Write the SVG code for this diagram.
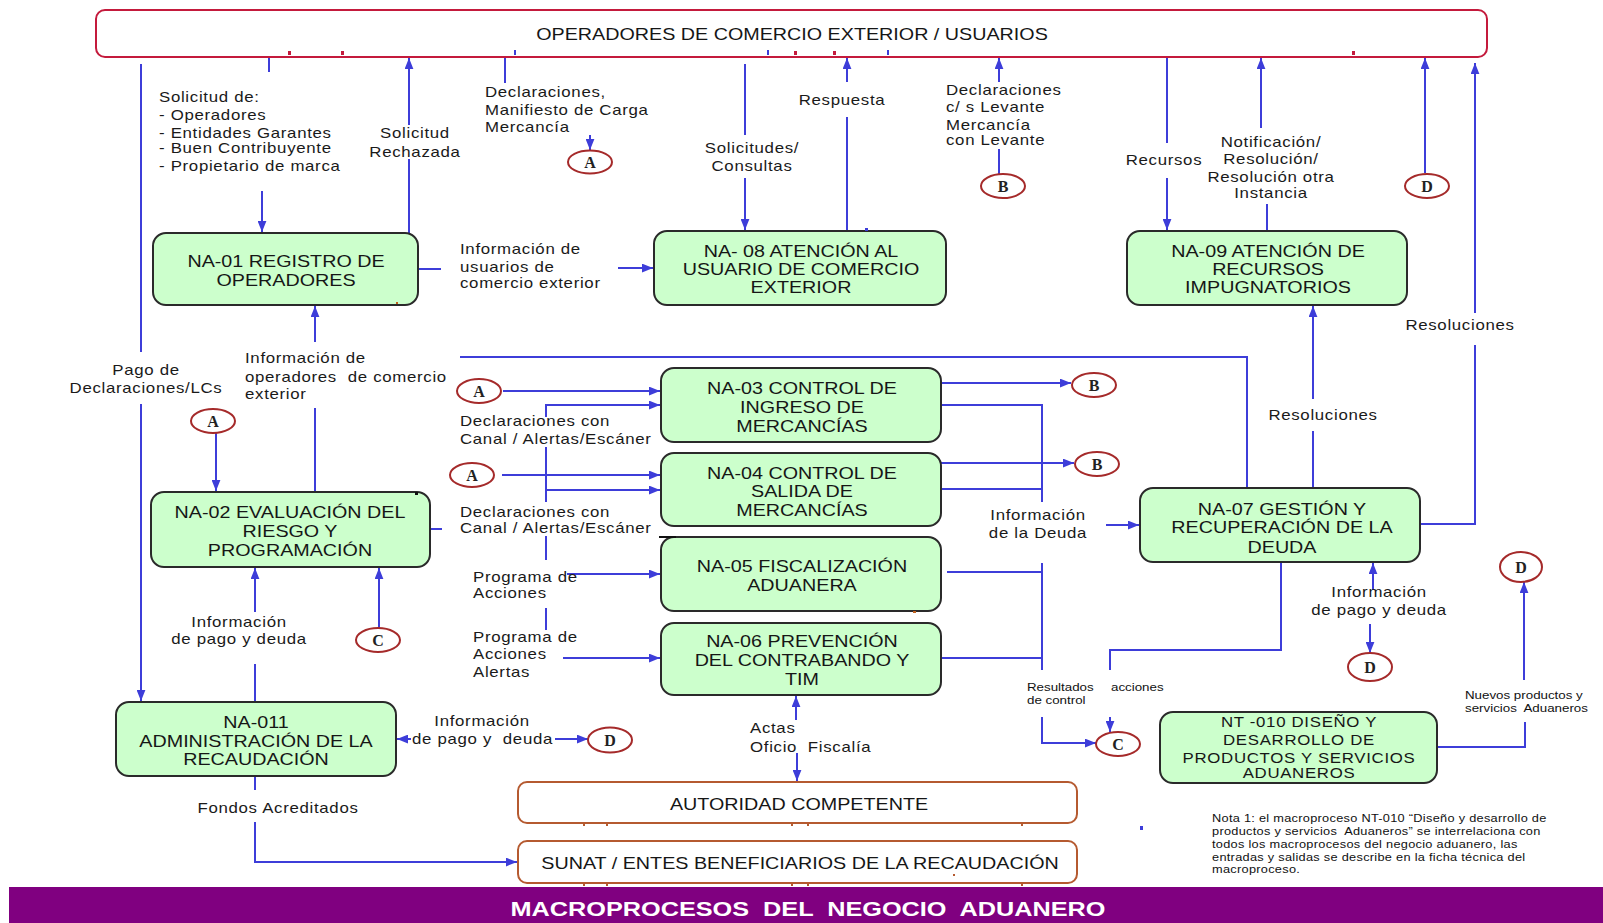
<svg xmlns="http://www.w3.org/2000/svg" width="1603" height="923" viewBox="0 0 1603 923">
<defs>
<marker id="ah" viewBox="0 0 10 8" refX="10" refY="4" markerWidth="11" markerHeight="9" markerUnits="userSpaceOnUse" orient="auto"><path d="M0,0 L10,4 L0,8 z" fill="#3d3dd9"/></marker>
<style>
.box{fill:#ccffcc;stroke:#2a2a2a;stroke-width:2}
.ext{fill:#fff;stroke:#c41a3c;stroke-width:2}
.aut{fill:#fff;stroke:#b55a30;stroke-width:2}
.ref{fill:#fff;stroke:#a52a2a;stroke-width:2}
#connectors path{fill:none;stroke:#3d3dd9;stroke-width:2}
#connectors path.a{marker-end:url(#ah)}
text{font-family:"Liberation Sans",Arial,sans-serif}
.nt{font-size:17px;fill:#161616;text-anchor:middle}
.nts{font-size:14.5px;letter-spacing:0.6px;fill:#161616;text-anchor:middle}
.lb{font-size:14.5px;letter-spacing:0.6px;fill:#1a1a1a}
.mid{text-anchor:middle}
.sm{font-size:11.5px;fill:#111}
.nota{font-size:11px;letter-spacing:0.25px;fill:#111}
.ltr{font-family:"Liberation Serif",serif;font-size:16px;font-weight:bold;fill:#222;text-anchor:middle}
.title{font-size:20px;font-weight:bold;fill:#fff;text-anchor:middle}
</style>
</defs>
<rect width="1603" height="923" fill="#fff"/>

<!-- connectors -->
<g id="connectors">
<path d="M141,64 V352"/>
<path class="a" d="M141,404 V701"/>
<path d="M269,55 V72"/>
<path class="a" d="M262,191 V232"/>
<path d="M409,233 V159"/>
<path class="a" d="M409,125 V58"/>
<path d="M418,269 H441"/>
<path class="a" d="M618,268 H653"/>
<path d="M505,55 V83"/>
<path class="a" d="M590,135 V150"/>
<path d="M745,64 V135"/>
<path class="a" d="M745,178 V230"/>
<path d="M847,231 V117"/>
<path class="a" d="M847,82 V58"/>
<path class="a" d="M999,82 V58"/>
<path d="M999,149 V174"/>
<path d="M1167,52 V143"/>
<path class="a" d="M1167,178 V230"/>
<path class="a" d="M1261,128 V58"/>
<path d="M1267,204 V231"/>
<path class="a" d="M1425,173 V58"/>
<path d="M1421,524 H1475 V345"/>
<path class="a" d="M1475,313 V63"/>
<path d="M1313,488 V431"/>
<path class="a" d="M1313,399 V306"/>
<path d="M315,492 V408"/>
<path class="a" d="M315,342 V306"/>
<path class="a" d="M216,433 V491"/>
<path d="M430,529 H442"/>
<path d="M460,357 H1247 V488"/>
<path class="a" d="M503,391 H660"/>
<path class="a" d="M546,417 V405 H660"/>
<path d="M546,447 V502"/>
<path d="M546,536 V560"/>
<path d="M546,608 V630"/>
<path class="a" d="M546,490 H660"/>
<path class="a" d="M502,475 H660"/>
<path class="a" d="M567,574 H660"/>
<path class="a" d="M563,658 H660"/>
<path class="a" d="M941,383 H1071"/>
<path d="M941,405 H1042 V502"/>
<path class="a" d="M941,463 H1074"/>
<path d="M941,489 H1042"/>
<path class="a" d="M1106,525 H1139"/>
<path d="M947,572 H1042"/>
<path d="M1042,563 V670"/>
<path d="M941,658 H1042"/>
<path class="a" d="M1042,717 V743 H1096"/>
<path d="M1281,562 V650 H1110 V670"/>
<path class="a" d="M1110,717 V732"/>
<path class="a" d="M1373,590 V563"/>
<path class="a" d="M1370,624 V653"/>
<path d="M1437,747 H1525 V722"/>
<path class="a" d="M1524,680 V582"/>
<path class="a" d="M255,612 V568"/>
<path d="M255,664 V702"/>
<path class="a" d="M379,628 V568"/>
<path class="a" d="M411,739 H397"/>
<path class="a" d="M555,739 H588"/>
<path d="M255,776 V790"/>
<path class="a" d="M255,822 V862 H517"/>
<path class="a" d="M796,720 V696"/>
<path class="a" d="M797,753 V781"/>
</g>

<!-- external parties -->
<g id="ext-operadores">
<rect class="ext" x="96" y="10" width="1391" height="47" rx="9"/>
<text class="nt" transform="matrix(1.16 0 0 1 792 0)" x="0" y="40">OPERADORES DE COMERCIO EXTERIOR / USUARIOS</text>
</g>
<g id="ext-autoridad">
<rect class="aut" x="518" y="782" width="559" height="41" rx="9"/>
<text class="nt" transform="matrix(1.16 0 0 1 799 0)" x="0" y="810">AUTORIDAD COMPETENTE</text>
</g>
<g id="ext-sunat">
<rect class="aut" x="518" y="841" width="559" height="42" rx="9"/>
<text class="nt" transform="matrix(1.16 0 0 1 800 0)" x="0" y="869">SUNAT / ENTES BENEFICIARIOS DE LA RECAUDACIÓN</text>
</g>

<!-- macroprocess nodes -->
<g id="na01">
<rect class="box" x="153" y="233" width="265" height="72" rx="13"/>
<text class="nt" transform="matrix(1.16 0 0 1 286 0)"><tspan x="0" y="267">NA-01 REGISTRO DE</tspan><tspan x="0" y="286">OPERADORES</tspan></text>
</g>
<g id="na08">
<rect class="box" x="654" y="231" width="292" height="74" rx="13"/>
<text class="nt" transform="matrix(1.16 0 0 1 801 0)"><tspan x="0" y="257">NA- 08 ATENCIÓN AL</tspan><tspan x="0" y="275">USUARIO DE COMERCIO</tspan><tspan x="0" y="293">EXTERIOR</tspan></text>
</g>
<g id="na09">
<rect class="box" x="1127" y="231" width="280" height="74" rx="13"/>
<text class="nt" transform="matrix(1.16 0 0 1 1268 0)"><tspan x="0" y="257">NA-09 ATENCIÓN DE</tspan><tspan x="0" y="275">RECURSOS</tspan><tspan x="0" y="293">IMPUGNATORIOS</tspan></text>
</g>
<g id="na02">
<rect class="box" x="151" y="492" width="279" height="75" rx="13"/>
<text class="nt" transform="matrix(1.16 0 0 1 290 0)"><tspan x="0" y="518">NA-02 EVALUACIÓN DEL</tspan><tspan x="0" y="537">RIESGO Y</tspan><tspan x="0" y="556">PROGRAMACIÓN</tspan></text>
</g>
<g id="na03">
<rect class="box" x="661" y="368" width="280" height="74" rx="13"/>
<text class="nt" transform="matrix(1.16 0 0 1 802 0)"><tspan x="0" y="394">NA-03 CONTROL DE</tspan><tspan x="0" y="413">INGRESO DE</tspan><tspan x="0" y="432">MERCANCÍAS</tspan></text>
</g>
<g id="na04">
<rect class="box" x="661" y="453" width="280" height="73" rx="13"/>
<text class="nt" transform="matrix(1.16 0 0 1 802 0)"><tspan x="0" y="479">NA-04 CONTROL DE</tspan><tspan x="0" y="497">SALIDA DE</tspan><tspan x="0" y="516">MERCANCÍAS</tspan></text>
</g>
<g id="na05">
<rect class="box" x="661" y="537" width="280" height="74" rx="13"/>
<text class="nt" transform="matrix(1.16 0 0 1 802 0)"><tspan x="0" y="572">NA-05 FISCALIZACIÓN</tspan><tspan x="0" y="591">ADUANERA</tspan></text>
</g>
<g id="na06">
<rect class="box" x="661" y="623" width="280" height="72" rx="13"/>
<text class="nt" transform="matrix(1.16 0 0 1 802 0)"><tspan x="0" y="647">NA-06 PREVENCIÓN</tspan><tspan x="0" y="666">DEL CONTRABANDO Y</tspan><tspan x="0" y="685">TIM</tspan></text>
</g>
<g id="na07">
<rect class="box" x="1140" y="488" width="280" height="74" rx="13"/>
<text class="nt" transform="matrix(1.16 0 0 1 1282 0)"><tspan x="0" y="515">NA-07 GESTIÓN Y</tspan><tspan x="0" y="533">RECUPERACIÓN DE LA</tspan><tspan x="0" y="553">DEUDA</tspan></text>
</g>
<g id="na011">
<rect class="box" x="116" y="702" width="280" height="74" rx="13"/>
<text class="nt" transform="matrix(1.16 0 0 1 256 0)"><tspan x="0" y="728">NA-011</tspan><tspan x="0" y="747">ADMINISTRACIÓN DE LA</tspan><tspan x="0" y="765">RECAUDACIÓN</tspan></text>
</g>
<g id="nt010">
<rect class="box" x="1160" y="712" width="277" height="71" rx="13"/>
<text class="nts" transform="matrix(1.16 0 0 1 1299 0)"><tspan x="0" y="727">NT -010 DISEÑO Y</tspan><tspan x="0" y="745">DESARROLLO DE</tspan><tspan x="0" y="763">PRODUCTOS Y SERVICIOS</tspan><tspan x="0" y="778">ADUANEROS</tspan></text>
</g>

<!-- off-page references -->
<g id="ref-a-top"><ellipse class="ref" cx="590" cy="162" rx="22" ry="11.5"/><text class="ltr" x="590" y="167.5">A</text></g>
<g id="ref-b-top"><ellipse class="ref" cx="1003" cy="186" rx="22" ry="12"/><text class="ltr" x="1003" y="191.5">B</text></g>
<g id="ref-d-top"><ellipse class="ref" cx="1427" cy="186" rx="22" ry="12"/><text class="ltr" x="1427" y="191.5">D</text></g>
<g id="ref-a-left"><ellipse class="ref" cx="213" cy="421" rx="22" ry="12"/><text class="ltr" x="213" y="426.5">A</text></g>
<g id="ref-a-in1"><ellipse class="ref" cx="479" cy="391" rx="22" ry="12"/><text class="ltr" x="479" y="396.5">A</text></g>
<g id="ref-a-in2"><ellipse class="ref" cx="472" cy="475" rx="22" ry="12"/><text class="ltr" x="472" y="480.5">A</text></g>
<g id="ref-b-out1"><ellipse class="ref" cx="1094" cy="385" rx="22" ry="12"/><text class="ltr" x="1094" y="390.5">B</text></g>
<g id="ref-b-out2"><ellipse class="ref" cx="1097" cy="464" rx="22" ry="12"/><text class="ltr" x="1097" y="469.5">B</text></g>
<g id="ref-c-left"><ellipse class="ref" cx="378" cy="640" rx="22" ry="12"/><text class="ltr" x="378" y="645.5">C</text></g>
<g id="ref-d-left"><ellipse class="ref" cx="610" cy="740" rx="22" ry="12.5"/><text class="ltr" x="610" y="745.5">D</text></g>
<g id="ref-c-right"><ellipse class="ref" cx="1118" cy="744" rx="22" ry="12"/><text class="ltr" x="1118" y="749.5">C</text></g>
<g id="ref-d-mid"><ellipse class="ref" cx="1370" cy="667" rx="22" ry="14"/><text class="ltr" x="1370" y="672.5">D</text></g>
<g id="ref-d-right"><ellipse class="ref" cx="1521" cy="567" rx="21" ry="15"/><text class="ltr" x="1521" y="572.5">D</text></g>

<!-- flow labels -->
<g id="labels">
<text class="lb" transform="matrix(1.16 0 0 1 159 0)"><tspan x="0" y="102">Solicitud de:</tspan><tspan x="0" y="120">- Operadores</tspan><tspan x="0" y="138">- Entidades Garantes</tspan><tspan x="0" y="153">- Buen Contribuyente</tspan><tspan x="0" y="171">- Propietario de marca</tspan></text>
<text class="lb mid" transform="matrix(1.16 0 0 1 415 0)"><tspan x="0" y="138">Solicitud</tspan><tspan x="0" y="157">Rechazada</tspan></text>
<text class="lb" transform="matrix(1.16 0 0 1 485 0)"><tspan x="0" y="97">Declaraciones,</tspan><tspan x="0" y="115">Manifiesto de Carga</tspan><tspan x="0" y="132">Mercancía</tspan></text>
<text class="lb mid" transform="matrix(1.16 0 0 1 752 0)"><tspan x="0" y="153">Solicitudes/</tspan><tspan x="0" y="171">Consultas</tspan></text>
<text class="lb mid" transform="matrix(1.16 0 0 1 842 0)" x="0" y="105">Respuesta</text>
<text class="lb" transform="matrix(1.16 0 0 1 946 0)"><tspan x="0" y="95">Declaraciones</tspan><tspan x="0" y="112">c/ s Levante</tspan><tspan x="0" y="130">Mercancía</tspan><tspan x="0" y="145">con Levante</tspan></text>
<text class="lb mid" transform="matrix(1.16 0 0 1 1164 0)" x="0" y="165">Recursos</text>
<text class="lb mid" transform="matrix(1.16 0 0 1 1271 0)"><tspan x="0" y="147">Notificación/</tspan><tspan x="0" y="164">Resolución/</tspan><tspan x="0" y="182">Resolución otra</tspan><tspan x="0" y="198">Instancia</tspan></text>
<text class="lb" transform="matrix(1.16 0 0 1 460 0)"><tspan x="0" y="254">Información de</tspan><tspan x="0" y="272">usuarios de</tspan><tspan x="0" y="288">comercio exterior</tspan></text>
<text class="lb mid" transform="matrix(1.16 0 0 1 146 0)"><tspan x="0" y="375">Pago de</tspan><tspan x="0" y="393">Declaraciones/LCs</tspan></text>
<text class="lb" xml:space="preserve" transform="matrix(1.16 0 0 1 245 0)"><tspan x="0" y="363">Información de</tspan><tspan x="0" y="382">operadores  de comercio</tspan><tspan x="0" y="399">exterior</tspan></text>
<text class="lb" transform="matrix(1.16 0 0 1 460 0)"><tspan x="0" y="426">Declaraciones con</tspan><tspan x="0" y="444">Canal / Alertas/Escáner</tspan></text>
<text class="lb" transform="matrix(1.16 0 0 1 460 0)"><tspan x="0" y="517">Declaraciones con</tspan><tspan x="0" y="533">Canal / Alertas/Escáner</tspan></text>
<text class="lb" transform="matrix(1.16 0 0 1 473 0)"><tspan x="0" y="582">Programa de</tspan><tspan x="0" y="598">Acciones</tspan></text>
<text class="lb" transform="matrix(1.16 0 0 1 473 0)"><tspan x="0" y="642">Programa de</tspan><tspan x="0" y="659">Acciones</tspan><tspan x="0" y="677">Alertas</tspan></text>
<text class="lb mid" transform="matrix(1.16 0 0 1 239 0)"><tspan x="0" y="627">Información</tspan><tspan x="0" y="644">de pago y deuda</tspan></text>
<text class="lb mid" transform="matrix(1.16 0 0 1 482 0)" x="0" y="726">Información</text>
<text class="lb" xml:space="preserve" transform="matrix(1.16 0 0 1 412 0)" x="0" y="744">de pago y  deuda</text>
<text class="lb mid" transform="matrix(1.16 0 0 1 278 0)" x="0" y="813">Fondos Acreditados</text>
<text class="lb" xml:space="preserve" transform="matrix(1.16 0 0 1 750 0)"><tspan x="0" y="733">Actas</tspan><tspan x="0" y="752">Oficio  Fiscalía</tspan></text>
<text class="lb mid" transform="matrix(1.16 0 0 1 1038 0)"><tspan x="0" y="520">Información</tspan><tspan x="0" y="538">de la Deuda</tspan></text>
<text class="lb mid" transform="matrix(1.16 0 0 1 1323 0)" x="0" y="420">Resoluciones</text>
<text class="lb mid" transform="matrix(1.16 0 0 1 1460 0)" x="0" y="330">Resoluciones</text>
<text class="lb mid" transform="matrix(1.16 0 0 1 1379 0)"><tspan x="0" y="597">Información</tspan><tspan x="0" y="615">de pago y deuda</tspan></text>
<text class="sm" transform="matrix(1.16 0 0 1 1027 0)"><tspan x="0" y="691">Resultados</tspan><tspan x="0" y="704">de control</tspan></text>
<text class="sm" transform="matrix(1.16 0 0 1 1111 0)" x="0" y="691">acciones</text>
<text class="sm" xml:space="preserve" transform="matrix(1.16 0 0 1 1465 0)"><tspan x="0" y="699">Nuevos productos y</tspan><tspan x="0" y="712">servicios  Aduaneros</tspan></text>
</g>

<!-- footnote -->
<g id="nota">
<text class="nota" xml:space="preserve" transform="matrix(1.16 0 0 1 1212 0)"><tspan x="0" y="822">Nota 1: el macroproceso NT-010 “Diseño y desarrollo de</tspan><tspan x="0" y="835">productos y servicios  Aduaneros” se interrelaciona con</tspan><tspan x="0" y="848">todos los macroprocesos del negocio aduanero, las</tspan><tspan x="0" y="861">entradas y salidas se describe en la ficha técnica del</tspan><tspan x="0" y="873">macroproceso.</tspan></text>
</g>

<!-- stray marks along box edges -->
<g id="marks">
<rect x="288" y="51" width="3" height="4" fill="#c41a3c"/>
<rect x="341" y="51" width="3" height="4" fill="#c41a3c"/>
<rect x="794" y="51" width="3" height="4" fill="#c41a3c"/>
<rect x="833" y="51" width="3" height="4" fill="#c41a3c"/>
<rect x="1352" y="51" width="3" height="4" fill="#c41a3c"/>
<rect x="514" y="50" width="2" height="5" fill="#3d3dd9"/>
<rect x="767" y="50" width="2" height="5" fill="#3d3dd9"/>
<rect x="887" y="50" width="2" height="5" fill="#3d3dd9"/>
<rect x="865" y="228" width="3" height="3" fill="#3d3dd9"/>
<rect x="1140" y="826" width="3" height="4" fill="#3d3dd9"/>
<rect x="396" y="302" width="2" height="2" fill="#c0601c"/>
<rect x="913" y="611" width="3" height="2" fill="#c0601c"/>
<rect x="659" y="536" width="17" height="2" fill="#111"/>
<rect x="415" y="492" width="3" height="3" fill="#111"/>
<g fill="#b55a30">
<rect x="583" y="823" width="2" height="3"/><rect x="606" y="823" width="2" height="3"/><rect x="791" y="823" width="2" height="3"/><rect x="807" y="823" width="2" height="3"/><rect x="1021" y="823" width="2" height="3"/>
<rect x="583" y="883" width="2" height="3"/><rect x="606" y="883" width="2" height="3"/><rect x="791" y="883" width="2" height="3"/><rect x="807" y="883" width="2" height="3"/><rect x="1021" y="883" width="2" height="3"/>
<rect x="953" y="874" width="2" height="2"/>
</g>
</g>

<!-- title banner -->
<g id="banner">
<rect x="9" y="887" width="1594" height="36" fill="#800080"/>
<text class="title" xml:space="preserve" x="808" y="916" textLength="595" lengthAdjust="spacingAndGlyphs">MACROPROCESOS  DEL  NEGOCIO  ADUANERO</text>
</g>
</svg>
